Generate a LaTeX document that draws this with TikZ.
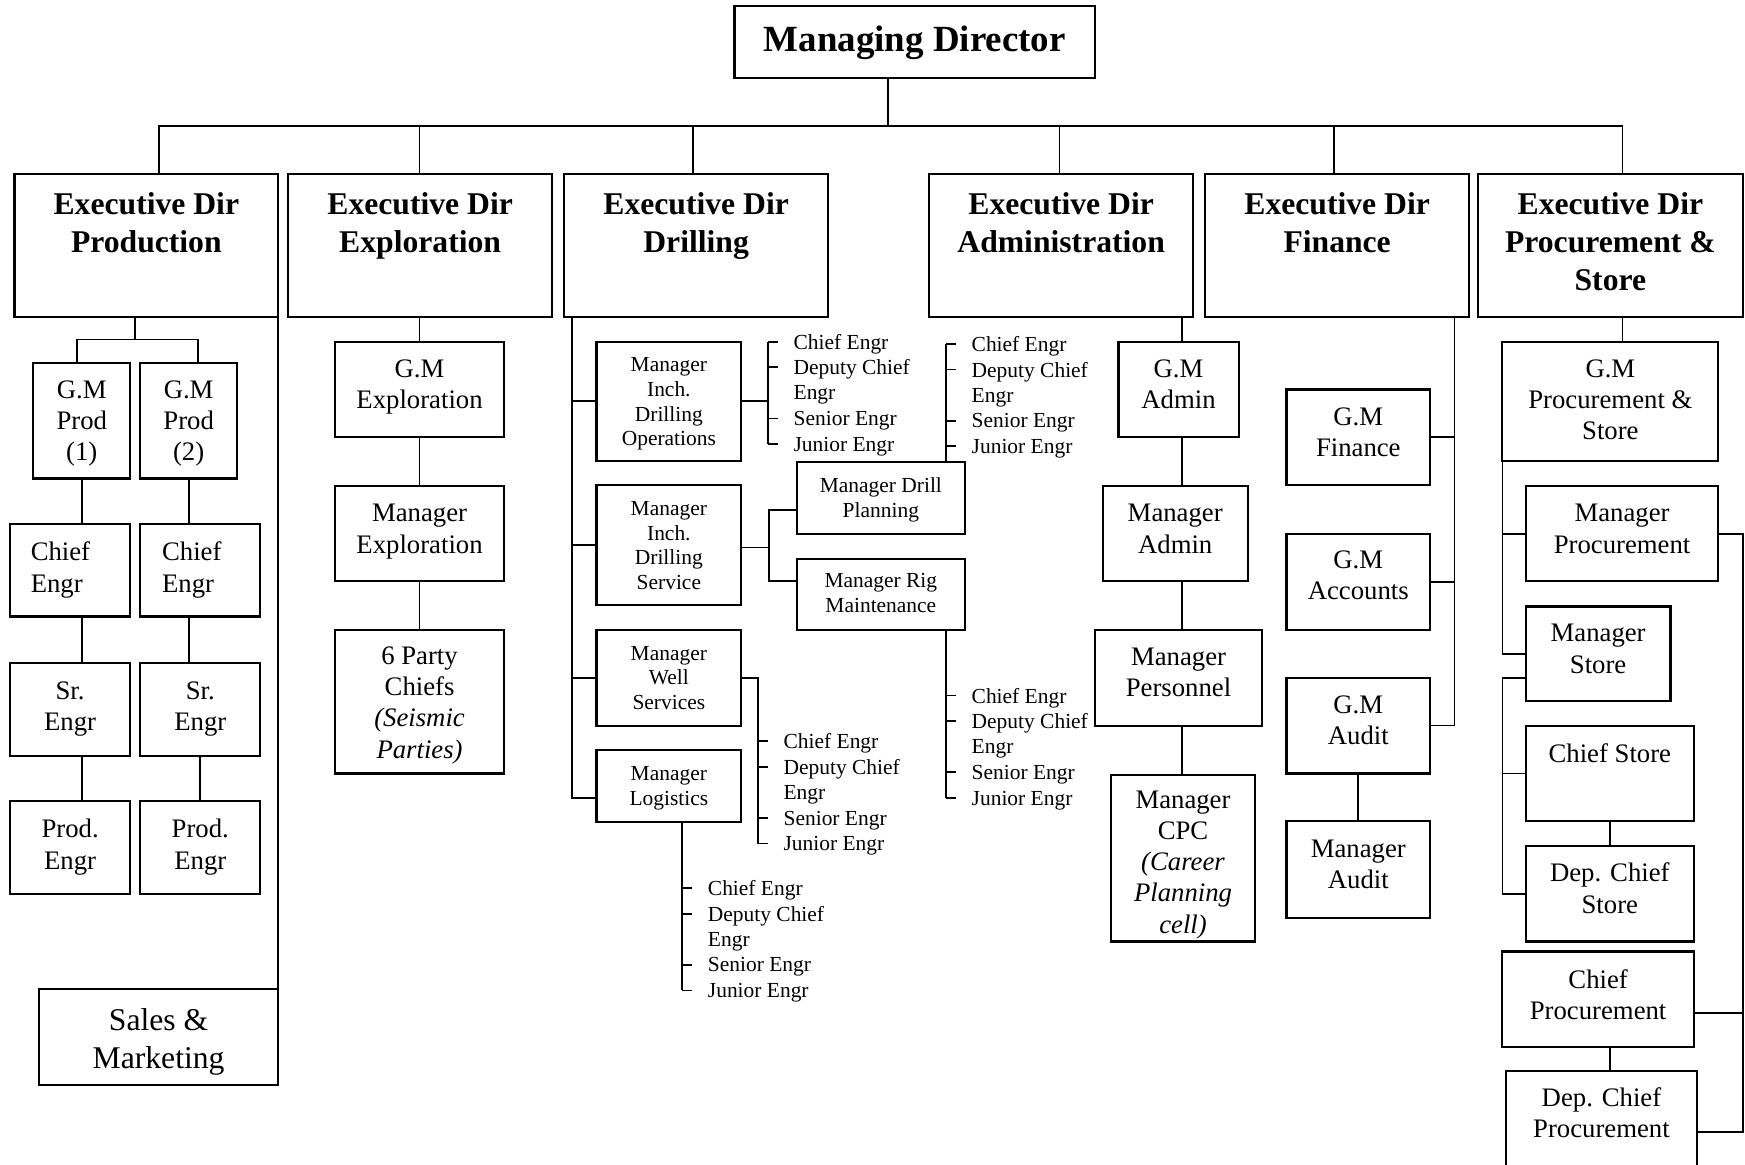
\documentclass[tikz,border=0pt]{standalone}
\usepackage{fontspec}
\setmainfont{Liberation Serif}
\usetikzlibrary{calc}

% box from its corners, with its text centred at height ty:
% [style] name x1 y1 x2 y2 ty text
\newcommand\bx[8][]{%
  \node[box,#1,minimum width={(#5-#3)*0.011129cm},minimum height={(#6-#4)*0.011129cm}]
    (#2) at ({(#3+#5)/2},{(#4+#6)/2}) {};
  \node[boxtext,#1] (#2-t) at ({(#3+#5)/2},#7) {#8};}

% staff list beside a bracket: name, bracket x, first line y
\newcommand\stafflist[3]{%
  \foreach \t [count=\i] in {Chief Engr,Deputy Chief,Engr,Senior Engr,Junior Engr}
    \node[listtext] (#1-\i) at ({#2+22.5},{#3+(\i-1)*23}) {\t};
  \foreach \i in {1,2,4,5}
    \draw[conn] (#1-\i.west -| #2,0) -- ++(9,0);
}

\begin{document}
\begin{tikzpicture}[x=0.011129cm, y=-0.011129cm,
  box/.style={draw, line width=0.6pt, inner sep=0pt, outer sep=0pt},
  boxtext/.style={inner sep=0pt, align=center, text depth=0pt,
    font=\fontsize{7.6}{8.9}\selectfont},
  smallbox/.style={font=\fontsize{6.1}{7}\selectfont},
  topbox/.style={font=\fontsize{10.5}{12.6}\selectfont\bfseries},
  bigbox/.style={font=\fontsize{9}{10.8}\selectfont},
  exectext/.style={inner sep=0pt, align=center, text depth=0pt,
    font=\fontsize{9}{10.8}\selectfont\bfseries},
  plaintext/.style={inner sep=0pt, align=left, text depth=0pt,
    font=\fontsize{7.6}{8.9}\selectfont},
  listtext/.style={inner sep=0pt, anchor=west, text depth=0pt,
    font=\fontsize{6.1}{7.3}\selectfont},
  conn/.style={line width=0.5pt},
]
\useasboundingbox (0,0) rectangle (1568,1046);
\fill[white] (0,0) rectangle (1568,1046);
\clip (0,0) rectangle (1568,1046);

% ---- top level ----
\bx[topbox]{md}{660}{5}{984}{70}{35}{Managing Director}

\bx{ed1}{13}{156}{250}{285}{200}{}
\bx{ed2}{259}{156}{496}{285}{200}{}
\bx{ed3}{507}{156}{744}{285}{200}{}
\bx{ed4}{835}{156}{1072}{285}{200}{}
\bx{ed5}{1083}{156}{1320}{285}{200}{}
\bx{ed6}{1328}{156}{1566}{285}{200}{}
\node[exectext] (ed1-h) at (131.5,200) {Executive Dir\\Production};
\node[exectext] (ed2-h) at (377.5,200) {Executive Dir\\Exploration};
\node[exectext] (ed3-h) at (625.5,200) {Executive Dir\\Drilling};
\node[exectext] (ed4-h) at (953.5,200) {Executive Dir\\Administration};
\node[exectext] (ed5-h) at (1201.5,200) {Executive Dir\\Finance};
\node[exectext] (ed6-h) at (1447,216.7) {Executive Dir\\Procurement \&\\Store};

\coordinate (bus) at (798,113);
\draw[conn] (bus) -- (bus |- md.south);
\draw[conn] (ed1.north -| 143,0) |- (bus);
\draw[conn] (ed2.north -| 377,0) |- (bus);
\draw[conn] (ed3.north -| 623,0) |- (bus);
\draw[conn] (ed4.north -| 952,0) |- (bus);
\draw[conn] (ed5.north -| 1199,0) |- (bus);
\draw[conn] (ed6.north -| 1458,0) |- (bus);

% ---- production ----
\bx{gp1}{30}{326}{117}{430}{378}{G.M\\Prod\\(1)}
\bx{gp2}{126}{326}{213}{430}{378}{G.M\\Prod\\(2)}
\bx{ce1}{9}{471}{117}{554}{509.5}{}
\bx{ce2}{126}{471}{234}{554}{509.5}{}
\node[plaintext, anchor=west] (ce1-h) at (27,509.5) {Chief\\Engr};
\node[plaintext, anchor=west] (ce2-h) at (145,509.5) {Chief\\Engr};
\bx{sr1}{9}{596}{117}{679}{634.5}{Sr.\\Engr}
\bx{sr2}{126}{596}{234}{679}{634.5}{Sr.\\Engr}
\bx{pe1}{9}{720}{117}{803}{758.5}{Prod.\\Engr}
\bx{pe2}{126}{720}{234}{803}{758.5}{Prod.\\Engr}
\bx[bigbox]{sm}{35}{889}{250}{975}{933}{Sales \&\\Marketing}

\coordinate (pj) at (121,305);
\draw[conn] (ed1.south -| pj) -- (pj);
\draw[conn] (gp1.north -| 69,0) |- (pj) -| (gp2.north -| 178,0);
\draw[conn] (gp1.south) -- (gp1.south |- ce1.north);
\draw[conn] (gp1.south |- ce1.south) -- (gp1.south |- sr1.north);
\draw[conn] (gp1.south |- sr1.south) -- (gp1.south |- pe1.north);
\draw[conn] (gp2.south) -- (gp2.south |- ce2.north);
\draw[conn] (gp2.south |- ce2.south) -- (gp2.south |- sr2.north);
\draw[conn] (sr2.south) -- (pe2.north);
\draw[conn] (ed1.south east) -- (sm.north east);

% ---- exploration ----
\bx{ge}{301}{307}{453}{393}{345}{G.M\\Exploration}
\bx{me}{301}{437}{453}{522}{475}{Manager\\Exploration}
\bx{pc}{301}{566}{453}{695}{631}{6 Party\\Chiefs\\\textit{(Seismic}\\\textit{Parties)}}
\draw[conn] (ge.north |- ed2.south) -- (ge.north);
\draw[conn] (ge.south) -- (me.north);
\draw[conn] (me.south) -- (pc.north);

% ---- drilling ----
\bx[smallbox]{mop}{536}{307}{666}{414}{361}{Manager\\Inch.\\Drilling\\Operations}
\bx[smallbox]{mds}{536}{436}{666}{544}{490}{Manager\\Inch.\\Drilling\\Service}
\bx[smallbox]{mws}{536}{566}{666}{652}{609}{Manager\\Well\\Services}
\bx[smallbox]{mlg}{536}{674}{666}{739}{706}{Manager\\Logistics}
\bx[smallbox]{mdp}{716}{415}{867}{480}{447}{Manager Drill\\Planning}
\bx[smallbox]{mrm}{716}{502}{867}{566}{533}{Manager Rig\\Maintenance}

\coordinate (dx) at (514,0);
\draw[conn] (ed3.south -| dx) |- (mlg.west |- 0,717);
\draw[conn] (mop.west) -- (mop.west -| dx);
\draw[conn] (mds.west) -- (mds.west -| dx);
\draw[conn] (mws.west) -- (mws.west -| dx);

\stafflist{ops}{690}{307}
\draw[conn] (mop.east) -- (mop.east -| 690,0);
\draw[conn] (ops-1.west -| 690,0) -- (ops-5.west -| 690,0);

\coordinate (sj) at (691,492);
\draw[conn] (mds.east |- sj) -- (sj);
\draw[conn] (mdp.west |- 0,458) -- (sj |- 0,458) -- (sj |- 0,522) -- (mrm.west |- 0,522);

\stafflist{adt}{850}{309}
\draw[conn] (adt-1.west -| 850,0) -- (mdp.north -| 850,0);
\stafflist{rig}{850}{625}
\draw[conn] (mrm.south -| 850,0) -- (rig-5.west -| 850,0);
\stafflist{wel}{681}{666}
\draw[conn] (mws.east) -| (wel-5.west -| 681,0);
\stafflist{lgs}{613}{798}
\draw[conn] (mlg.south -| 613,0) -- (lgs-5.west -| 613,0);

% ---- administration ----
\bx{gma}{1005}{307}{1113}{393}{345}{G.M\\Admin}
\bx{mad}{991}{437}{1121}{522}{475}{Manager\\Admin}
\bx{mpe}{984}{566}{1134}{652}{604}{Manager\\Personnel}
\bx{cpc}{998}{696}{1128}{846}{774.5}{Manager\\CPC\\\textit{(Career}\\\textit{Planning}\\\textit{cell)}}
\coordinate (ax) at (1062,0);
\draw[conn] (ed4.south -| ax) -- (gma.north -| ax);
\draw[conn] (gma.south -| ax) -- (mad.north -| ax);
\draw[conn] (mad.south -| ax) -- (mpe.north -| ax);
\draw[conn] (mpe.south -| ax) -- (cpc.north -| ax);

% ---- finance ----
\bx{gmf}{1156}{350}{1285}{436}{388}{G.M\\Finance}
\bx{gac}{1156}{480}{1285}{566}{517}{G.M\\Accounts}
\bx{gau}{1156}{609}{1285}{695}{647}{G.M\\Audit}
\bx{mau}{1156}{738}{1285}{825}{776.5}{Manager\\Audit}
\coordinate (fx) at (1307,0);
\draw[conn] (ed5.south -| fx) |- (gau.east);
\draw[conn] (gmf.east) -- (gmf.east -| fx);
\draw[conn] (gac.east) -- (gac.east -| fx);
\draw[conn] (gau.south) -- (mau.north);

% ---- procurement & store ----
\bx{gmp}{1350}{307}{1544}{414}{359}{G.M\\Procurement \&\\Store}
\bx{mpr}{1371}{437}{1544}{522}{475}{Manager\\Procurement}
\bx{mst}{1371}{545}{1501}{630}{583}{Manager\\Store}
\bx{cst}{1371}{652}{1522}{738}{677}{Chief Store}
\bx{dcs}{1371}{760}{1522}{846}{798}{Dep. Chief\\Store}
\bx{cpr}{1350}{855}{1522}{941}{893.5}{Chief\\Procurement}
\bx{dcp}{1353}{962}{1525}{1062}{1000}{Dep. Chief\\Procurement}

\coordinate (qx) at (1350,0);
\coordinate (rx) at (1566,0);
\draw[conn] (ed6.south -| 1458,0) -- (gmp.north -| 1458,0);
\draw[conn] (gmp.south west) |- (mst.west);
\draw[conn] (mpr.west) -- (mpr.west -| qx);
\draw[conn] (mst.west |- 0,609) -- (qx |- 0,609) |- (dcs.west);
\draw[conn] (cst.west) -- (cst.west -| qx);
\draw[conn] (cst.south) -- (dcs.north);
\draw[conn] (mpr.east) -| (rx |- 0,1017) -- (dcp.east |- 0,1017);
\draw[conn] (cpr.east |- 0,910) -- (rx |- 0,910);
\draw[conn] (cpr.south -| 1447,0) -- (dcp.north -| 1447,0);
\end{tikzpicture}
\end{document}
